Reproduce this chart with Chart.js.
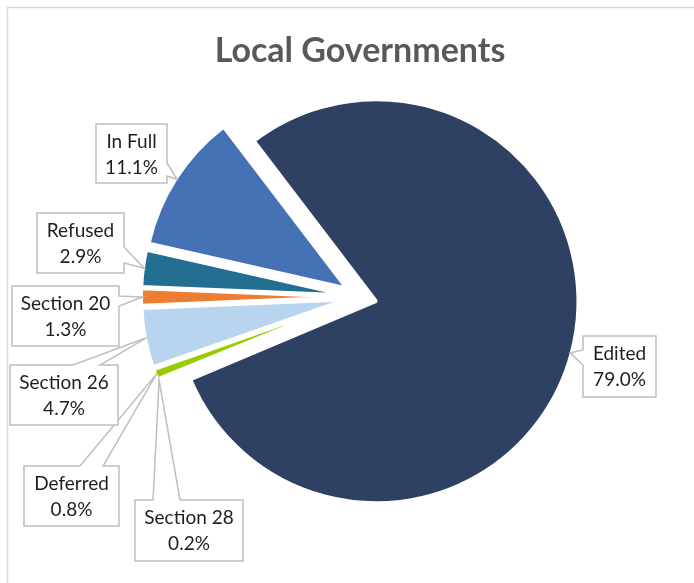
<!DOCTYPE html>
<html>
<head>
<meta charset="utf-8">
<script src="https://cdn.jsdelivr.net/npm/chart.js@4.4.1/dist/chart.umd.min.js"></script>
<style>
  html, body { margin: 0; padding: 0; background: #fff; }
  #pie { display: block; }
</style>
</head>
<body>
<canvas id="pie" width="694" height="583"></canvas>
<script>
// data (percent of local government requests)
const categories = ['Edited', 'Section 28', 'Deferred', 'Section 26', 'Section 20', 'Refused', 'In Full'];
const shares = [79.0, 0.2, 0.8, 4.7, 1.3, 2.9, 11.1];
const sliceColors = ['#2E4163', '#A5A5A5', '#99CC00', '#B8D4EF', '#ED7D31', '#236E91', '#4472B4'];

const EXPLODE = 17;   // px each slice is pulled out from the centre
const RADIUS = 201.5;

// where each callout box sits, and which side its pointer leaves from
const callouts = {
  'Edited':     { x: 583, y: 336, w: 73,  h: 61, side: 'left',  a: 350, b: 365 },
  'In Full':    { x: 96,  y: 124, w: 71,  h: 59, side: 'right', a: 163, b: 176 },
  'Refused':    { x: 37,  y: 213, w: 87,  h: 60, side: 'right', a: 247, b: 263 },
  'Section 20': { x: 12,  y: 286, w: 107, h: 60, side: 'right', a: 296, b: 306 },
  'Section 26': { x: 10,  y: 365, w: 108, h: 60, side: 'top',   a: 73,  b: 100 },
  'Deferred':   { x: 24,  y: 466, w: 95,  h: 60, side: 'top',   a: 80,  b: 103 },
  'Section 28': { x: 135, y: 500, w: 108, h: 61, side: 'top',   a: 153, b: 180 }
};

// pull every slice out along its bisector (like Excel's point explosion)
const explode = {
  id: 'explode',
  beforeDatasetDraw(chart, args) {
    const area = chart.chartArea;
    const cx = (area.left + area.right) / 2;
    const cy = (area.top + area.bottom) / 2;
    args.meta.data.forEach(arc => {
      const mid = (arc.startAngle + arc.endAngle) / 2;
      arc.x = cx + Math.cos(mid) * EXPLODE;
      arc.y = cy + Math.sin(mid) * EXPLODE;
    });
  }
};

const frame = {
  id: 'frame',
  beforeDraw(chart) {
    const ctx = chart.ctx;
    ctx.save();
    ctx.fillStyle = '#fff';
    ctx.fillRect(0, 0, chart.width, chart.height);
    ctx.strokeStyle = '#D9D9D9';
    ctx.lineWidth = 1.5;
    ctx.beginPath();
    ctx.moveTo(7.5, chart.height);
    ctx.lineTo(7.5, 7.5);
    ctx.lineTo(chart.width, 7.5);
    ctx.stroke();
    ctx.restore();
  }
};

const calloutLabels = {
  id: 'calloutLabels',
  afterDraw(chart) {
    const ctx = chart.ctx;
    const meta = chart.getDatasetMeta(0);
    ctx.save();
    meta.data.forEach((arc, i) => {
      const c = callouts[categories[i]];
      if (!c) return;
      const mid = (arc.startAngle + arc.endAngle) / 2;
      const r = arc.outerRadius - 1;
      const tx = arc.x + Math.cos(mid) * r;
      const ty = arc.y + Math.sin(mid) * r;
      const x0 = c.x, y0 = c.y, x1 = c.x + c.w, y1 = c.y + c.h;

      ctx.beginPath();
      ctx.moveTo(x0, y0);
      if (c.side === 'top') { ctx.lineTo(c.a, y0); ctx.lineTo(tx, ty); ctx.lineTo(c.b, y0); }
      ctx.lineTo(x1, y0);
      if (c.side === 'right') { ctx.lineTo(x1, c.a); ctx.lineTo(tx, ty); ctx.lineTo(x1, c.b); }
      ctx.lineTo(x1, y1);
      ctx.lineTo(x0, y1);
      if (c.side === 'left') { ctx.lineTo(x0, c.b); ctx.lineTo(tx, ty); ctx.lineTo(x0, c.a); }
      ctx.closePath();
      ctx.fillStyle = '#fff';
      ctx.fill();
      ctx.strokeStyle = '#BFBFBF';
      ctx.lineWidth = 1.5;
      ctx.lineJoin = 'miter';
      ctx.stroke();

      ctx.fillStyle = '#1E1E1E';
      ctx.font = '19px Lato';
      ctx.textAlign = 'center';
      ctx.textBaseline = 'middle';
      const cx = (x0 + x1) / 2;
      ctx.fillText(categories[i], cx, y0 + 18);
      ctx.fillText(shares[i].toFixed(1) + '%', cx, y0 + 44);
    });
    ctx.restore();
  }
};

new Chart(document.getElementById('pie'), {
  type: 'pie',
  data: {
    labels: categories,
    datasets: [{
      data: shares,
      backgroundColor: sliceColors,
      borderColor: '#fff',
      borderWidth: 3,
      hoverOffset: 0,
      radius: RADIUS
    }]
  },
  options: {
    responsive: false,
    animation: false,
    rotation: -37.3,
    layout: { padding: { left: 26, right: 0, top: 0, bottom: 61 } },
    plugins: {
      legend: { display: false },
      tooltip: { enabled: false },
      title: {
        display: true,
        text: 'Local Governments',
        color: '#595959',
        font: { family: 'Lato', size: 34, weight: 'bold' },
        padding: { top: 31, bottom: 0 }
      }
    }
  },
  plugins: [frame, explode, calloutLabels]
});
</script>
</body>
</html>
